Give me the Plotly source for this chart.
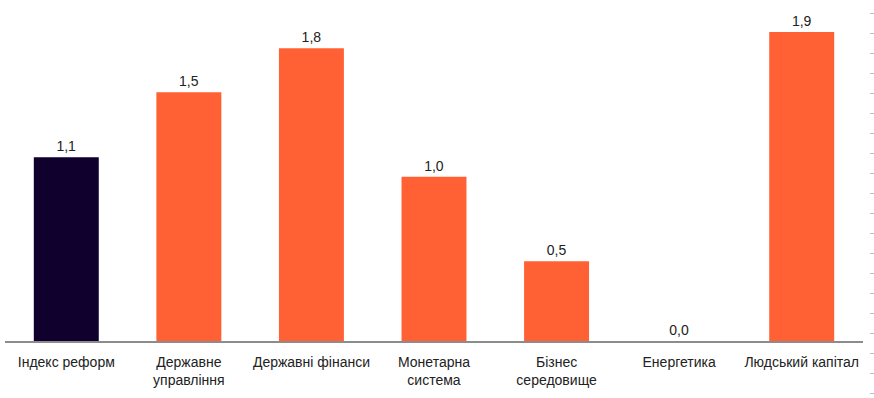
import plotly.graph_objects as go

categories = ["Індекс реформ", "Державне<br>управління", "Державні фінанси", "Монетарна<br>система",
              "Бізнес<br>середовище", "Енергетика", "Людський капітал"]
values = [1.13, 1.53, 1.80, 1.01, 0.49, 0.0, 1.90]
labels = ["1,1", "1,5", "1,8", "1,0", "0,5", "0,0", "1,9"]
colors = ["#10002E"] + ["#FF6135"] * 6

W, H = 874, 398
fig = go.Figure()
fig.add_trace(go.Bar(
    x=categories, y=values, text=labels, textposition="outside",
    textfont=dict(size=14, color="#222222", family="Liberation Sans, Arial"),
    marker=dict(color=colors, line=dict(width=0)), cliponaxis=False,
    hoverinfo="skip", xaxis="x", yaxis="y",
))
# invisible trace for the decorative right tick axis
fig.add_trace(go.Scatter(x=[0], y=[0], mode="markers", marker=dict(opacity=0),
                         xaxis="x2", yaxis="y2", hoverinfo="skip", showlegend=False))

fig.update_layout(
    width=W, height=H,
    margin=dict(l=0, r=0, t=0, b=0, autoexpand=False),
    paper_bgcolor="white", plot_bgcolor="rgba(0,0,0,0)",
    showlegend=False, bargap=0.47,
    font=dict(family="Liberation Sans, Arial", size=14, color="#222222"),
    xaxis=dict(domain=[5 / W, 863 / W], showgrid=False, zeroline=False, automargin=False,
               showline=True, linecolor="#8c8c8c", linewidth=1.5, ticks="",
               ticklabelstandoff=7,
               tickfont=dict(size=14, color="#222222"), anchor="y"),
    yaxis=dict(domain=[57 / H, 1], range=[0, 341 / 162.6], visible=False, anchor="x",
               automargin=False),
    xaxis2=dict(domain=[0, 1], visible=False, range=[0, 1], anchor="y2", automargin=False),
    yaxis2=dict(domain=[0, 1], range=[0, H], side="right", anchor="x2", automargin=False,
                showgrid=False, zeroline=False, showline=False, showticklabels=False,
                ticks="inside", ticklen=4, tickwidth=1, tickcolor="#b8bdd0",
                tick0=5, dtick=20),
)
fig.write_html("out.html", config={"displayModeBar": False},
               post_script="document.body.style.margin='0';")
